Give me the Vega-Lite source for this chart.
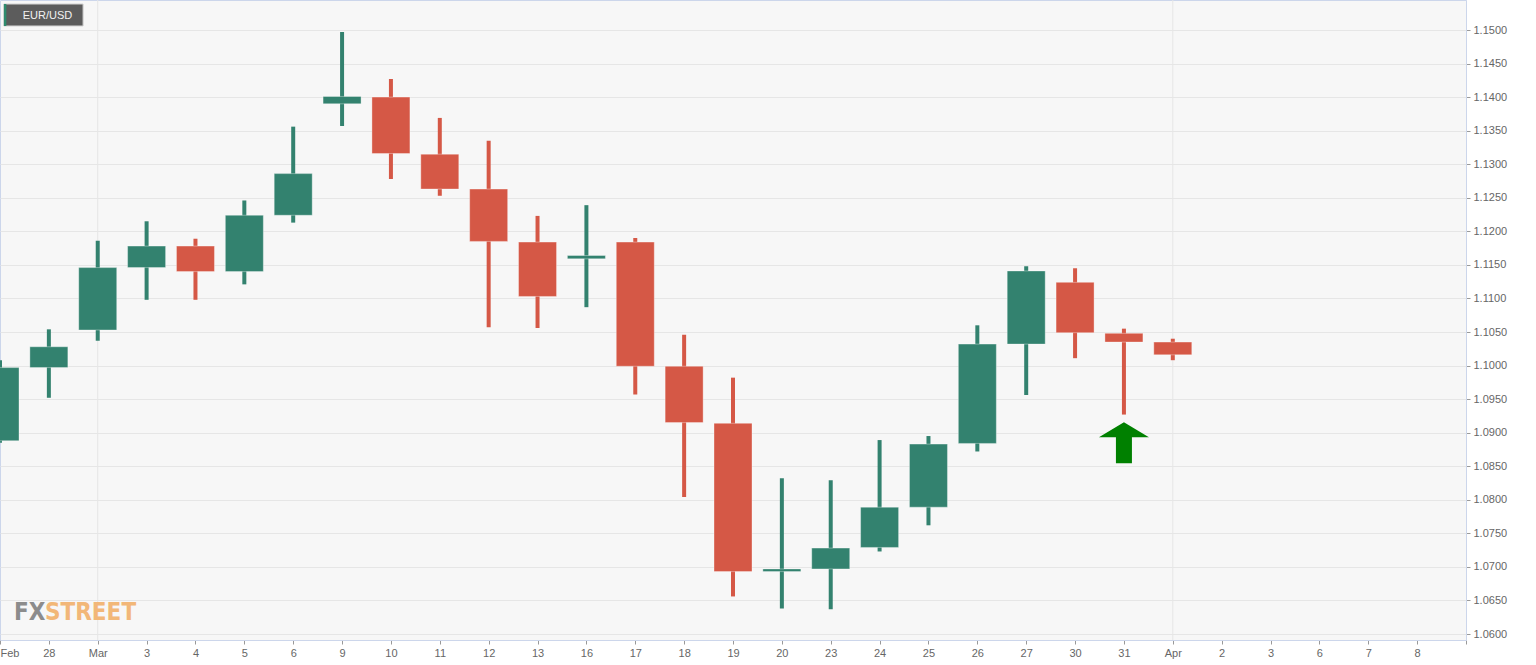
{
  "$schema": "https://vega.github.io/schema/vega-lite/v6.json",
  "autosize": {"type": "none"},
  "width": 1466,
  "height": 640,
  "padding": {"left": 0, "top": 0, "right": 70, "bottom": 25},
  "background": "#ffffff",
  "config": {
    "view": {"stroke": "#ccd6eb", "strokeWidth": 1, "fill": "#f7f7f7"},
    "scale": {"continuousPadding": 0},
    "axis": {"labelFont": "Liberation Sans", "labelFontSize": 11, "labelColor": "#666666", "tickColor": "#999999", "domainColor": "#ccd6eb", "title": null},
    "axisX": {"values": [0,1,2,3,4,5,6,7,8,9,10,11,12,13,14,15,16,17,18,19,20,21,22,23,24,24.9,25.88,26.84,27.82,28.8],
      "labelExpr": "['Feb','28','Mar','3','4','5','6','9','10','11','12','13','16','17','18','19','20','23','24','25','26','27','30','31','Apr','2','3','6','7','8'][round(datum.value)]",
      "grid": false, "tickSize": 4, "labelPadding": 3, "labelFlush": true, "labelOverlap": false, "labelBound": false},
    "axisY": {"values": [1.06,1.065,1.07,1.075,1.08,1.085,1.09,1.095,1.1,1.105,1.11,1.115,1.12,1.125,1.13,1.135,1.14,1.145,1.15],
      "format": ".4f", "grid": true, "gridColor": "#e6e6e6", "tickSize": 4, "labelPadding": 3, "labelOverlap": false}
  },
  "datasets": {
    "candles": [
      {"i": 0, "d": "Feb 27", "open": 1.0888, "high": 1.1008, "low": 1.0885, "close": 1.0997},
      {"i": 1, "d": "Feb 28", "open": 1.0997, "high": 1.1054, "low": 1.0952, "close": 1.1028},
      {"i": 2, "d": "Mar 2", "open": 1.1053, "high": 1.1186, "low": 1.1037, "close": 1.1146},
      {"i": 3, "d": "Mar 3", "open": 1.1146, "high": 1.1215, "low": 1.1098, "close": 1.1178},
      {"i": 4, "d": "Mar 4", "open": 1.1178, "high": 1.1189, "low": 1.1098, "close": 1.1140},
      {"i": 5, "d": "Mar 5", "open": 1.1140, "high": 1.1246, "low": 1.1121, "close": 1.1224},
      {"i": 6, "d": "Mar 6", "open": 1.1224, "high": 1.1356, "low": 1.1213, "close": 1.1286},
      {"i": 7, "d": "Mar 9", "open": 1.1390, "high": 1.1497, "low": 1.1357, "close": 1.1401},
      {"i": 8, "d": "Mar 10", "open": 1.1400, "high": 1.1427, "low": 1.1278, "close": 1.1316},
      {"i": 9, "d": "Mar 11", "open": 1.1315, "high": 1.1369, "low": 1.1253, "close": 1.1263},
      {"i": 10, "d": "Mar 12", "open": 1.1263, "high": 1.1335, "low": 1.1057, "close": 1.1185},
      {"i": 11, "d": "Mar 13", "open": 1.1184, "high": 1.1223, "low": 1.1056, "close": 1.1103},
      {"i": 12, "d": "Mar 16", "open": 1.1159, "high": 1.1239, "low": 1.1087, "close": 1.1164},
      {"i": 13, "d": "Mar 17", "open": 1.1184, "high": 1.1190, "low": 1.0957, "close": 1.0999},
      {"i": 14, "d": "Mar 18", "open": 1.0999, "high": 1.1046, "low": 1.0804, "close": 1.0915},
      {"i": 15, "d": "Mar 19", "open": 1.0914, "high": 1.0982, "low": 1.0656, "close": 1.0693},
      {"i": 16, "d": "Mar 20", "open": 1.0693, "high": 1.0832, "low": 1.0638, "close": 1.0697},
      {"i": 17, "d": "Mar 23", "open": 1.0697, "high": 1.0829, "low": 1.0637, "close": 1.0728},
      {"i": 18, "d": "Mar 24", "open": 1.0729, "high": 1.0889, "low": 1.0723, "close": 1.0789},
      {"i": 19, "d": "Mar 25", "open": 1.0789, "high": 1.0895, "low": 1.0762, "close": 1.0883},
      {"i": 20, "d": "Mar 26", "open": 1.0884, "high": 1.1060, "low": 1.0872, "close": 1.1032},
      {"i": 21, "d": "Mar 27", "open": 1.1032, "high": 1.1148, "low": 1.0956, "close": 1.1141},
      {"i": 22, "d": "Mar 30", "open": 1.1124, "high": 1.1145, "low": 1.1011, "close": 1.1049},
      {"i": 23, "d": "Mar 31", "open": 1.1048, "high": 1.1055, "low": 1.0927, "close": 1.1035},
      {"i": 24, "d": "Apr 1", "open": 1.1035, "high": 1.1040, "low": 1.1008, "close": 1.1016}
    ],
    "months": [{"i": 2, "m": "Mar"}, {"i": 24, "m": "Apr"}],
    "arrow": [{"i": 23, "y": 1.0885}],
    "mark_text": [
      {"t": "FX", "i": 0.286, "y": 1.0621, "c": "fx"},
      {"t": "STREET", "i": 0.92, "y": 1.0621, "c": "street"}
    ],
    "label": [{"t": "EUR/USD", "i0": 0.08, "i1": 1.7, "s1": 0.13, "ti": 0.97, "y0": 1.15387, "y1": 1.1506, "ty": 1.15209}]
  },
  "layer": [
    {
      "data": {"name": "months"},
      "mark": {"type": "rule", "color": "#e6e6e6", "strokeWidth": 1},
      "encoding": {
        "x": {"field": "i", "type": "quantitative", "scale": {"domain": [0, 30], "nice": false, "zero": false, "padding": 0}}
      }
    },
    {
      "data": {"name": "candles"},
      "mark": {"type": "rule", "strokeWidth": 4, "clip": true},
      "encoding": {
        "x": {"field": "i", "type": "quantitative", "scale": {"domain": [0, 30], "nice": false, "zero": false, "padding": 0}},
        "y": {"field": "low", "type": "quantitative", "scale": {"domain": [1.05911, 1.15447], "nice": false, "zero": false, "padding": 0}, "axis": {"orient": "right"}},
        "y2": {"field": "high"},
        "color": {"condition": {"test": "datum.close > datum.open", "value": "#33826f"}, "value": "#d55846"}
      }
    },
    {
      "data": {"name": "candles"},
      "mark": {"type": "bar", "size": 38, "clip": true, "stroke": "#ffffff", "strokeOpacity": 0.35, "strokeWidth": 1},
      "encoding": {
        "x": {"field": "i", "type": "quantitative", "scale": {"domain": [0, 30], "nice": false, "zero": false, "padding": 0}},
        "y": {"field": "open", "type": "quantitative", "scale": {"domain": [1.05911, 1.15447], "nice": false, "zero": false, "padding": 0}, "axis": {"orient": "right"}},
        "y2": {"field": "close"},
        "color": {"condition": {"test": "datum.close > datum.open", "value": "#33826f"}, "value": "#d55846"}
      }
    },
    {
      "data": {"name": "arrow"},
      "mark": {"type": "point", "filled": true, "opacity": 1, "color": "#008000", "size": 2500,
        "shape": "M0,-0.82 L1,-0.22 L0.32,-0.22 L0.32,0.82 L-0.32,0.82 L-0.32,-0.22 L-1,-0.22 Z"},
      "encoding": {
        "x": {"field": "i", "type": "quantitative", "scale": {"domain": [0, 30], "nice": false, "zero": false, "padding": 0}},
        "y": {"field": "y", "type": "quantitative", "scale": {"domain": [1.05911, 1.15447], "nice": false, "zero": false, "padding": 0}, "axis": {"orient": "right"}}
      }
    },
    {
      "data": {"name": "mark_text"},
      "mark": {"type": "text", "align": "left", "baseline": "alphabetic", "font": "DejaVu Sans Condensed, sans-serif", "fontWeight": "bold", "fontSize": 24},
      "encoding": {
        "x": {"field": "i", "type": "quantitative", "scale": {"domain": [0, 30], "nice": false, "zero": false, "padding": 0}},
        "y": {"field": "y", "type": "quantitative", "scale": {"domain": [1.05911, 1.15447], "nice": false, "zero": false, "padding": 0}, "axis": {"orient": "right"}},
        "text": {"field": "t"},
        "color": {"field": "c", "type": "nominal", "scale": {"domain": ["fx", "street"], "range": ["#8c8c8c", "#f2b778"]}, "legend": null}
      }
    },
    {
      "data": {"name": "label"},
      "mark": {"type": "rect", "color": "#5c5c5c", "stroke": "#d0d0d0", "strokeWidth": 1},
      "encoding": {
        "x": {"field": "i0", "type": "quantitative", "scale": {"domain": [0, 30], "nice": false, "zero": false, "padding": 0}},
        "x2": {"field": "i1"},
        "y": {"field": "y0", "type": "quantitative", "scale": {"domain": [1.05911, 1.15447], "nice": false, "zero": false, "padding": 0}, "axis": {"orient": "right"}},
        "y2": {"field": "y1"}
      }
    },
    {
      "data": {"name": "label"},
      "mark": {"type": "rect", "color": "#2e8b6e"},
      "encoding": {
        "x": {"field": "i0", "type": "quantitative", "scale": {"domain": [0, 30], "nice": false, "zero": false, "padding": 0}},
        "x2": {"field": "s1"},
        "y": {"field": "y0", "type": "quantitative", "scale": {"domain": [1.05911, 1.15447], "nice": false, "zero": false, "padding": 0}, "axis": {"orient": "right"}},
        "y2": {"field": "y1"}
      }
    },
    {
      "data": {"name": "label"},
      "mark": {"type": "text", "align": "center", "baseline": "middle", "font": "Liberation Sans", "fontSize": 11, "color": "#f2f2f2"},
      "encoding": {
        "x": {"field": "ti", "type": "quantitative", "scale": {"domain": [0, 30], "nice": false, "zero": false, "padding": 0}},
        "y": {"field": "ty", "type": "quantitative", "scale": {"domain": [1.05911, 1.15447], "nice": false, "zero": false, "padding": 0}, "axis": {"orient": "right"}},
        "text": {"field": "t"}
      }
    }
  ]
}
